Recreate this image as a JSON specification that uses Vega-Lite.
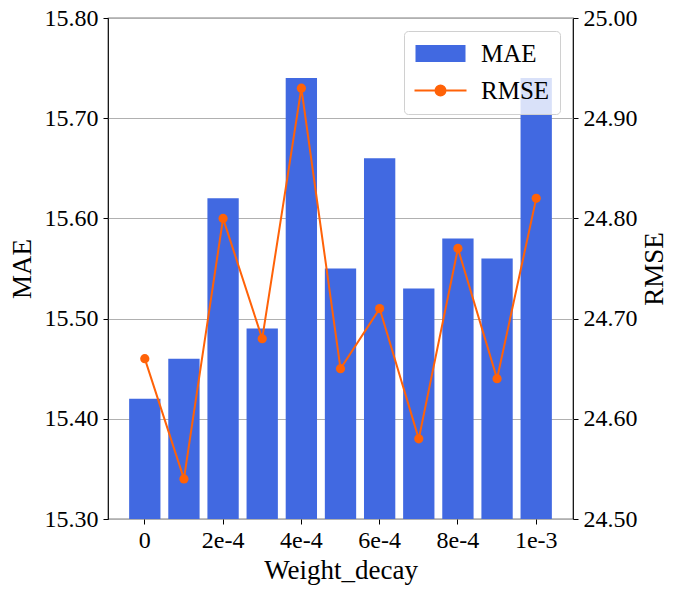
{
  "$schema": "https://vega.github.io/schema/vega-lite/v6.json",
  "autosize": "none",
  "width": 465,
  "height": 501,
  "padding": {"left": 108, "top": 18, "right": 107, "bottom": 75},
  "background": "white",
  "config": {
    "view": {"stroke": "black", "strokeWidth": 1.2},
    "font": "Liberation Serif",
    "style": {
      "guide-label": {"font": "Liberation Serif", "fontSize": 24, "fill": "black"},
      "guide-title": {"font": "Liberation Serif", "fontSize": 27, "fontWeight": "normal", "fill": "black"}
    },
    "axis": {
      "labelFont": "Liberation Serif",
      "titleFont": "Liberation Serif",
      "labelFontSize": 24,
      "titleFontSize": 27,
      "titleFontWeight": "normal",
      "labelColor": "black",
      "titleColor": "black",
      "tickColor": "black",
      "tickSize": 5,
      "tickWidth": 1,
      "domain": false,
      "zindex": 1
    }
  },
  "data": {
    "values": [
      {"wd": "0", "MAE": 15.42, "RMSE": 24.66},
      {"wd": "1e-4", "MAE": 15.46, "RMSE": 24.54},
      {"wd": "2e-4", "MAE": 15.62, "RMSE": 24.80},
      {"wd": "3e-4", "MAE": 15.49, "RMSE": 24.68},
      {"wd": "4e-4", "MAE": 15.74, "RMSE": 24.93},
      {"wd": "5e-4", "MAE": 15.55, "RMSE": 24.65},
      {"wd": "6e-4", "MAE": 15.66, "RMSE": 24.71},
      {"wd": "7e-4", "MAE": 15.53, "RMSE": 24.58},
      {"wd": "8e-4", "MAE": 15.58, "RMSE": 24.77},
      {"wd": "9e-4", "MAE": 15.56, "RMSE": 24.64},
      {"wd": "1e-3", "MAE": 15.74, "RMSE": 24.82}
    ]
  },
  "encoding": {
    "x": {
      "field": "wd",
      "type": "ordinal",
      "sort": null,
      "scale": {"paddingInner": 0.2, "paddingOuter": 0.54},
      "axis": {
        "title": "Weight_decay",
        "values": ["0", "2e-4", "4e-4", "6e-4", "8e-4", "1e-3"],
        "labelAngle": 0,
        "labelFont": "Liberation Serif",
        "titleFont": "Liberation Serif",
        "labelPadding": 4,
        "titlePadding": 5,
        "grid": false
      }
    },
    "color": {
      "scale": {"domain": ["MAE", "RMSE"], "range": ["#4169E1", "#ff6208"]},
      "legend": {
        "title": null,
        "orient": "top-right",
        "offset": 13,
        "padding": 10,
        "rowPadding": 11,
        "symbolSize": 400,
        "symbolOffset": 14,
        "labelOffset": 28,
        "labelFont": "Liberation Serif",
        "labelFontSize": 25,
        "labelColor": "black",
        "fillColor": "rgba(255,255,255,0.8)",
        "strokeColor": "#d0d0d0",
        "cornerRadius": 4,
        "encode": {
          "symbols": {
            "update": {
              "shape": {"signal": "datum.value === 'MAE' ? 'M-2.5,-0.85H2.5V0.85H-2.5Z' : 'M-2.6,0H2.6M-0.5,0A0.5,0.5,0,1,1,0.5,0A0.5,0.5,0,1,1,-0.5,0Z'"},
              "fill": {"signal": "datum.value === 'MAE' ? '#4169E1' : '#ff6208'"},
              "stroke": {"signal": "datum.value === 'MAE' ? '#4169E1' : '#ff6208'"},
              "strokeWidth": {"signal": "datum.value === 'MAE' ? 0 : 2"},
              "opacity": {"value": 1},
              "fillOpacity": {"value": 1}
            }
          }
        }
      }
    }
  },
  "layer": [
    {
      "mark": {"type": "bar"},
      "encoding": {
        "y": {
          "field": "MAE",
          "type": "quantitative",
          "scale": {"domain": [15.3, 15.8], "zero": false, "nice": false},
          "axis": {
            "title": "MAE",
            "values": [15.3, 15.4, 15.5, 15.6, 15.7, 15.8],
            "format": ".2f",
            "labelFont": "Liberation Serif",
            "titleFont": "Liberation Serif",
            "grid": true,
            "gridColor": "#b0b0b0",
            "gridWidth": 1,
            "labelPadding": 5,
            "titlePadding": 8
          }
        },
        "y2": {"datum": 15.3},
        "color": {"datum": "MAE"}
      }
    },
    {
      "mark": {"type": "line", "strokeWidth": 2, "point": {"size": 85, "filled": true, "opacity": 1}},
      "encoding": {
        "y": {
          "field": "RMSE",
          "type": "quantitative",
          "scale": {"domain": [24.5, 25.0], "zero": false, "nice": false},
          "axis": {
            "title": "RMSE",
            "orient": "right",
            "values": [24.5, 24.6, 24.7, 24.8, 24.9, 25.0],
            "format": ".2f",
            "labelFont": "Liberation Serif",
            "titleFont": "Liberation Serif",
            "grid": false,
            "labelPadding": 5,
            "titlePadding": 31,
            "titleAngle": -90
          }
        },
        "color": {"datum": "RMSE"}
      }
    }
  ],
  "resolve": {"scale": {"y": "independent"}}
}
